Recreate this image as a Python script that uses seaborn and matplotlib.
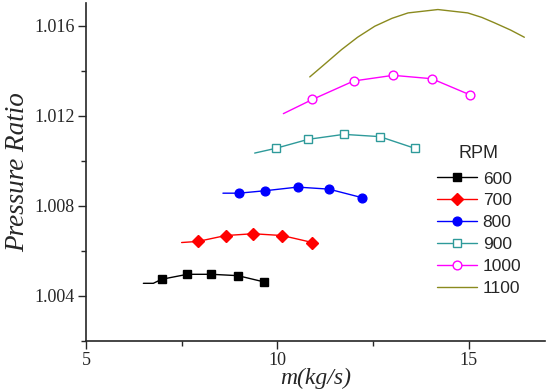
import matplotlib
matplotlib.use("Agg")
import matplotlib.pyplot as plt
from matplotlib.lines import Line2D
from matplotlib.ticker import MultipleLocator
import numpy as np
import pandas as pd
import seaborn as sns

# values
rpm = ["600", "700", "800", "900", "1000", "1100"]

# fitted curves (start point + points along the curve)
curve_x_600 = [6.50, 6.76, 6.98, 7.65, 8.28, 8.97, 9.66]
curve_y_600 = [1.00456, 1.00456, 1.00474, 1.00496, 1.00496, 1.00490, 1.00462]
curve_x_700 = [7.50, 7.93, 8.65, 9.37, 10.13, 10.92]
curve_y_700 = [1.00637, 1.00642, 1.00668, 1.00676, 1.00668, 1.00637]
curve_x_800 = [8.58, 9.00, 9.69, 10.53, 11.35, 12.22]
curve_y_800 = [1.00856, 1.00856, 1.00867, 1.00883, 1.00874, 1.00836]
curve_x_900 = [9.41, 9.96, 10.81, 11.74, 12.68, 13.60]
curve_y_900 = [1.01034, 1.01055, 1.01095, 1.01117, 1.01107, 1.01055]
curve_x_1000 = [10.16, 10.92, 12.00, 13.03, 14.04, 15.03]
curve_y_1000 = [1.01209, 1.01272, 1.01354, 1.01379, 1.01364, 1.01293]
curve_x_1100 = [10.85, 11.25, 11.68, 12.10, 12.55, 13.00, 13.42, 14.20,
                14.98, 15.35, 15.68, 16.10, 16.46]
curve_y_1100 = [1.01372, 1.01430, 1.01493, 1.01548, 1.01597, 1.01632, 1.01656,
                1.01671, 1.01656, 1.01636, 1.01612, 1.01580, 1.01548]

# measured points (markers)
pts_x_600 = [6.98, 7.65, 8.28, 8.97, 9.66]
pts_y_600 = [1.00474, 1.00496, 1.00496, 1.00490, 1.00462]
pts_x_700 = [7.93, 8.65, 9.37, 10.13, 10.92]
pts_y_700 = [1.00642, 1.00668, 1.00676, 1.00668, 1.00637]
pts_x_800 = [9.00, 9.69, 10.53, 11.35, 12.22]
pts_y_800 = [1.00856, 1.00867, 1.00883, 1.00874, 1.00836]
pts_x_900 = [9.96, 10.81, 11.74, 12.68, 13.60]
pts_y_900 = [1.01055, 1.01095, 1.01117, 1.01107, 1.01055]
pts_x_1000 = [10.92, 12.00, 13.03, 14.04, 15.03]
pts_y_1000 = [1.01272, 1.01354, 1.01379, 1.01364, 1.01293]

curves = {"600": (curve_x_600, curve_y_600), "700": (curve_x_700, curve_y_700),
          "800": (curve_x_800, curve_y_800), "900": (curve_x_900, curve_y_900),
          "1000": (curve_x_1000, curve_y_1000), "1100": (curve_x_1100, curve_y_1100)}
points = {"600": (pts_x_600, pts_y_600), "700": (pts_x_700, pts_y_700),
          "800": (pts_x_800, pts_y_800), "900": (pts_x_900, pts_y_900),
          "1000": (pts_x_1000, pts_y_1000)}

colors = {"600": "black", "700": "#ff0000", "800": "#0000ff",
          "900": "#2e9a9a", "1000": "#ff00ff", "1100": "#8a8a1e"}
mk = {"600": ("s", True, 5.3), "700": ("D", True, 5.8), "800": ("o", True, 6.3),
      "900": ("s", False, 5.8), "1000": ("o", False, 6.3)}

sns.set_style("ticks")
plt.rcParams["font.family"] = ["Liberation Serif", "DejaVu Serif"]

fig = plt.figure(figsize=(5.5, 3.9), dpi=100)
ax = fig.add_axes([86 / 550, 49 / 390, 459 / 550, 338 / 390])

for r in rpm:
    cx, cy = curves[r]
    df = pd.DataFrame({"m": cx, "pr": cy})
    sns.lineplot(data=df, x="m", y="pr", ax=ax, color=colors[r], lw=1.0,
                 sort=False, estimator=None)
    if r in points:
        px, py = points[r]
        m, filled, s = mk[r]
        ax.plot(px, py, ls="none", marker=m, ms=s, mew=1.0,
                mec=colors[r], mfc=colors[r] if filled else "white", zorder=3)

ax.set_xlim(5, 17)
ax.set_ylim(1.002, 1.017)
ax.xaxis.set_major_locator(MultipleLocator(5))
ax.xaxis.set_minor_locator(MultipleLocator(2.5))
ax.yaxis.set_major_locator(MultipleLocator(0.004))
ax.yaxis.set_minor_locator(MultipleLocator(0.002))
ax.yaxis.set_major_formatter(plt.FuncFormatter(lambda v, p: f"{v:.3f}"))
ax.tick_params(which="major", length=6, width=1.0, labelsize=13,
               direction="out", pad=2)
ax.tick_params(which="minor", length=3.5, width=1.0, direction="out")
for s in ["left", "bottom"]:
    ax.spines[s].set_linewidth(1.2)
sns.despine(ax=ax)

ax.set_xlabel("m(kg/s)", fontsize=17, style="italic", labelpad=-1)
ax.set_ylabel("Pressure Ratio", fontsize=19.5, style="italic", labelpad=3)

handles = []
for r in rpm:
    if r in mk:
        m, filled, s = mk[r]
        h = Line2D([], [], color=colors[r], lw=1.0, marker=m, ms=s,
                   mec=colors[r], mfc=colors[r] if filled else "white")
    else:
        h = Line2D([], [], color=colors[r], lw=1.0)
    handles.append(h)
leg = fig.legend(handles, rpm, title="RPM", loc="upper left",
                 bbox_to_anchor=(428 / 550, 1 - 136 / 390), frameon=False,
                 prop={"family": "Liberation Sans", "size": 12.5},
                 title_fontproperties={"family": "Liberation Sans", "size": 13},
                 handlelength=2.3, handletextpad=0.35, labelspacing=0.39,
                 borderpad=0)
leg._legend_box.sep = 7

fig.savefig("out.png", dpi=100)
